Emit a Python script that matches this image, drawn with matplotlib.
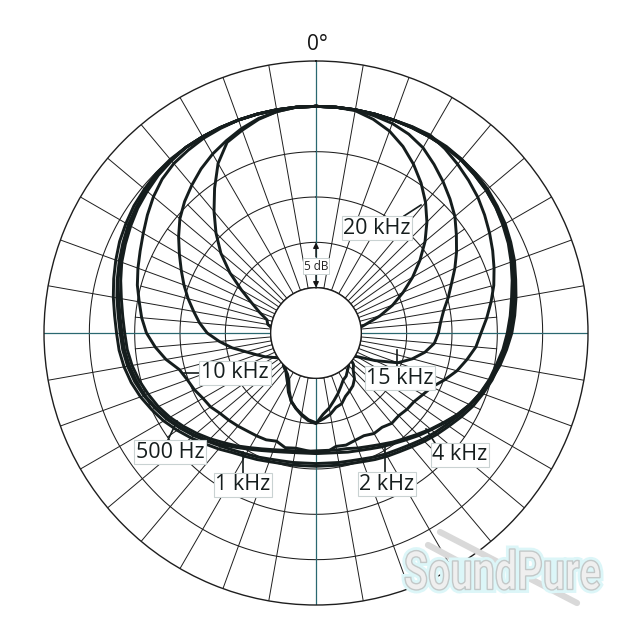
import numpy as np
import matplotlib
matplotlib.use('Agg')
import matplotlib.pyplot as plt
from matplotlib.lines import Line2D
from matplotlib.patches import PathPatch
from matplotlib.textpath import TextPath
from matplotlib.font_manager import FontProperties
from matplotlib.transforms import Affine2D, IdentityTransform
import matplotlib.patheffects as pe

plt.rcParams['font.family'] = ['Open Sans', 'DejaVu Sans']

# ---------------- data (dB relative to 0 deg, angle clockwise from front) ----
angles_deg = list(range(0, 360, 5))

db_500hz = [0, 0, 0, 0, 0, 0.1, 0.1, 0.1, 0, -0.2,
            -0.4, -0.7, -1.1, -1.5, -1.9, -2.4, -2.9, -3.3, -3.7, -4.1,
            -4.5, -4.9, -5.4, -5.9, -6.5, -7.1, -7.6, -8.1, -8.6, -9.0,
            -9.3, -9.6, -9.9, -10.1, -10.2, -10.3, -10.3, -10.3, -10.2, -10.1,
            -9.9, -9.6, -9.3, -8.9, -8.3, -7.7, -7.0, -6.3, -5.6, -5.0,
            -4.4, -3.9, -3.5, -3.2, -3.0, -2.7, -2.3, -1.9, -1.5, -1.1,
            -0.8, -0.5, -0.3, -0.1, 0, 0, 0, 0, 0, 0,
            0, 0]

db_1khz = [0, 0, 0, 0, 0, 0, 0, 0, -0.1, -0.3,
           -0.5, -0.8, -1.2, -1.6, -2.1, -2.6, -3.1, -3.5, -3.9, -4.3,
           -4.8, -5.2, -5.7, -6.2, -6.8, -7.4, -7.9, -8.4, -8.9, -9.3,
           -9.6, -9.9, -10.2, -10.4, -10.5, -10.6, -10.6, -10.6, -10.5, -10.4,
           -10.2, -9.9, -9.6, -9.2, -8.7, -8.1, -7.4, -6.7, -6.0, -5.4,
           -4.8, -4.3, -3.9, -3.6, -3.4, -3.1, -2.7, -2.3, -1.9, -1.5,
           -1.1, -0.8, -0.5, -0.3, -0.1, 0, 0, 0, 0, 0,
           0, 0]

db_2khz = [0, 0, 0, 0, 0, 0, 0, 0, -0.1, -0.3,
           -0.5, -0.8, -1.1, -1.5, -1.9, -2.3, -2.8, -3.2, -3.6, -4.1,
           -4.6, -5.1, -5.7, -6.3, -7.0, -7.7, -8.4, -9.0, -9.6, -10.1,
           -10.5, -10.9, -11.2, -11.4, -11.6, -11.7, -11.7, -11.7, -11.6, -11.4,
           -11.1, -10.7, -10.2, -9.6, -8.9, -8.2, -7.5, -6.8, -6.1, -5.5,
           -4.9, -4.5, -4.1, -3.8, -3.6, -3.3, -2.9, -2.4, -2.0, -1.6,
           -1.2, -0.9, -0.6, -0.3, -0.1, 0, 0, 0, 0, 0,
           0, 0]

db_4khz = [0, 0, 0, 0, 0, 0, 0, 0, 0, -0.1,
           -0.3, -0.6, -0.9, -1.3, -1.7, -2.2, -2.6, -3.0, -3.4, -3.9,
           -4.4, -5.0, -5.6, -6.3, -7.0, -7.8, -8.5, -9.2, -9.8, -10.3,
           -10.8, -11.2, -11.5, -11.8, -11.9, -12.0, -12.0, -11.9, -11.8, -11.6,
           -11.3, -10.9, -10.4, -9.8, -9.2, -8.5, -7.8, -7.1, -6.4, -5.8,
           -5.3, -4.8, -4.4, -4.1, -3.9, -3.6, -3.2, -2.7, -2.2, -1.8,
           -1.4, -1.0, -0.7, -0.4, -0.2, 0, 0, 0, 0, 0,
           0, 0]

db_10khz = [0, 0, 0, 0, 0, 0.1, 0.2, -0.2, -0.7, -1.2,
            -1.7, -2.3, -2.9, -3.5, -4.1, -4.7, -5.4, -6.1, -6.8, -7.3,
            -8.1, -8.9, -9.9, -10.9, -11.4, -11.8, -11.9, -12.1, -12.0, -12.3,
            -12.2, -12.5, -12.4, -12.2, -12.3, -11.8, -11.8, -12.0, -12.1, -11.9,
            -12.3, -12.0, -11.9, -11.8, -11.6, -11.4, -11.2, -10.8, -10.6, -10.2,
            -9.9, -9.4, -8.2, -7.2, -6.3, -5.7, -5.2, -4.6, -4.1, -3.6,
            -3.0, -2.3, -1.6, -1.0, -0.6, -0.4, -0.2, -0.1, 0, 0,
            0, 0]

db_15khz = [0, 0, 0, -0.2, -0.4, -0.8, -1.4, -2.3, -3.2, -4.1,
            -5.0, -6.1, -7.1, -8.1, -9.1, -9.9, -10.7, -11.2, -11.5, -11.9,
            -12.8, -14.0, -15.4, -17.8, -19.8, -20.5, -19.6, -19.2, -18.4, -17.9,
            -17.6, -17.3, -16.7, -16.5, -15.9, -15.5, -15.1, -15.4, -15.9, -16.4,
            -17.0, -17.8, -18.7, -19.3, -19.8, -20.3, -20.5, -20.2, -19.6, -18.8,
            -18.0, -17.0, -15.6, -14.3, -13.0, -12.1, -11.3, -10.4, -9.5, -8.6,
            -7.6, -6.5, -5.4, -4.5, -3.7, -2.9, -2.2, -1.6, -1.0, -0.5,
            -0.2, 0]

db_20khz = [0, 0, -0.1, -0.6, -1.3, -2.3, -3.5, -4.8, -6.2, -7.7,
            -9.3, -11.0, -12.7, -14.4, -16.0, -17.7, -19.4, -20.5, -21, -21,
            -21, -21, -21, -21, -21, -21, -20.5, -19.9, -19.6, -19.2,
            -19.0, -18.5, -17.9, -17.3, -16.6, -16.0, -15.0, -15.3, -15.8, -16.4,
            -17.0, -18.0, -19.0, -19.5, -19.7, -19.9, -20.5, -21, -21, -21,
            -21, -21, -21, -21, -21, -20.3, -19.6, -19.4, -18.4, -17.2,
            -15.5, -13.4, -11.3, -9.4, -7.5, -5.5, -3.4, -1.8, -1.2, -0.6,
            -0.2, 0]

series = [db_500hz, db_1khz, db_2khz, db_4khz, db_10khz, db_15khz, db_20khz]

label_texts = ['500 Hz', '1 kHz', '2 kHz', '4 kHz', '10 kHz', '15 kHz', '20 kHz']

# ---------------- figure ----------------
W, H = 632, 640
fig = plt.figure(figsize=(W / 100, H / 100), dpi=100)
cx, cy, R = 316, 333, 272
ax = fig.add_axes([(cx - R) / W, (H - cy - R) / H, 2 * R / W, 2 * R / H],
                  projection='polar')
ax.set_theta_zero_location('N')
ax.set_theta_direction(-1)
ax.set_rlim(-20, 5)
ax.set_rorigin(-25)
ax.set_xticks([])
ax.set_yticks([])
ax.grid(False)
for sp in ['polar', 'inner']:
    if sp in ax.spines:
        ax.spines[sp].set_color('#1e1e1e')
        ax.spines[sp].set_linewidth(1.0)

grid_c = '#1e1e1e'
tfine = np.linspace(0, 2 * np.pi, 721)
for rr in [-15, -10, -5, 0]:
    ax.plot(tfine, np.full_like(tfine, rr), color=grid_c, lw=0.75, zorder=1)
ax.plot(tfine, np.full_like(tfine, -20), color=grid_c, lw=1.0, zorder=5)
for a in range(0, 360, 10):
    if a % 90 == 0:
        continue
    ax.plot([np.deg2rad(a)] * 2, [-20, 5], color=grid_c, lw=0.7, zorder=1)
# intermediate 5-degree spokes on the two side fans
for a in list(range(45, 140, 10)) + list(range(225, 320, 10)):
    ax.plot([np.deg2rad(a)] * 2, [-20, -5], color=grid_c, lw=0.7, zorder=1)
for a in [0, 90, 180, 270]:
    ax.plot([np.deg2rad(a)] * 2, [-20, 5], color='#2a6870', lw=0.9, zorder=1.5)

th = np.deg2rad(np.array(angles_deg + [360]))
curve_c = '#151d1d'
for s in series:
    vals = np.array(s + [s[0]], dtype=float)
    ax.plot(th, vals, color=curve_c, lw=2.1, zorder=3, solid_joinstyle='round')

# ---------------- labels ----------------
def fx(x):
    return x / W

def fy(y):
    return 1 - y / H

box = dict(boxstyle='square,pad=0.08', fc='white', ec='#c9d2d2', lw=0.8)
label_pos = {'500 Hz': (170, 452), '1 kHz': (243, 485), '2 kHz': (387, 484),
             '4 kHz': (460, 455), '10 kHz': (235, 373), '15 kHz': (400, 378),
             '20 kHz': (377, 228)}
leaders = {'500 Hz': ((167, 442), (177, 421)), '1 kHz': ((243, 452), (243, 475)),
           '2 kHz': ((385, 444), (385, 474)), '4 kHz': ((435, 443), (426, 429)),
           '10 kHz': ((184, 373), (202, 373)), '15 kHz': ((397, 350), (397, 368)),
           '20 kHz': ((404, 216), (421, 205))}
for name in label_texts:
    (x1, y1), (x2, y2) = leaders[name]
    fig.add_artist(Line2D([fx(x1), fx(x2)], [fy(y1), fy(y2)], transform=fig.transFigure,
                          color=curve_c, lw=1.2, zorder=6))
for name in label_texts:
    x, y = label_pos[name]
    fig.text(fx(x), fy(y), name, ha='center', va='center', fontsize=15.5,
             color='#151d1d', bbox=box, zorder=7)

fig.text(fx(317), fy(44), '0°', ha='center', va='center', fontsize=15, color='#151515')

# 5 dB scale marker
ax.annotate('', xy=(0, -15), xytext=(0, -16.6),
            arrowprops=dict(arrowstyle='-|>', color='#151515', lw=1.0,
                            mutation_scale=8, shrinkA=0, shrinkB=0), zorder=8)
ax.annotate('', xy=(0, -20), xytext=(0, -18.6),
            arrowprops=dict(arrowstyle='-|>', color='#151515', lw=1.0,
                            mutation_scale=8, shrinkA=0, shrinkB=0), zorder=8)
fig.text(fx(316), fy(266), '5 dB', ha='center', va='center', fontsize=8.5,
         color='#222', bbox=dict(boxstyle='square,pad=0.1', fc='white', ec='#c9d2d2', lw=0.7),
         zorder=9)

# ---------------- watermark ----------------
for (xa, ya), (xb, yb) in [((440, 532), (577, 603)), ((428, 545), (490, 578))]:
    fig.add_artist(Line2D([xa, xb], [H - ya, H - yb], transform=IdentityTransform(),
                          color='#d9d9d9', lw=4.5, solid_capstyle='round', zorder=10))
tp = TextPath((0, 0), 'SoundPure', size=50,
              prop=FontProperties(family='Roboto', weight='bold'))
ext = tp.get_extents()
sx = (600 - 405) / ext.width
sy = (590 - 549) / ext.height
tr = Affine2D().translate(-ext.x0, -ext.y0).scale(sx, sy).translate(405, H - 590)
patch = PathPatch(tp, transform=tr, fc='#efefef', ec='#c3c8c8', lw=1.0, zorder=11)
patch.set_path_effects([pe.Stroke(linewidth=5, foreground='#dcf6f8'), pe.Normal()])
fig.add_artist(patch)

fig.savefig('out.png', dpi=100)
